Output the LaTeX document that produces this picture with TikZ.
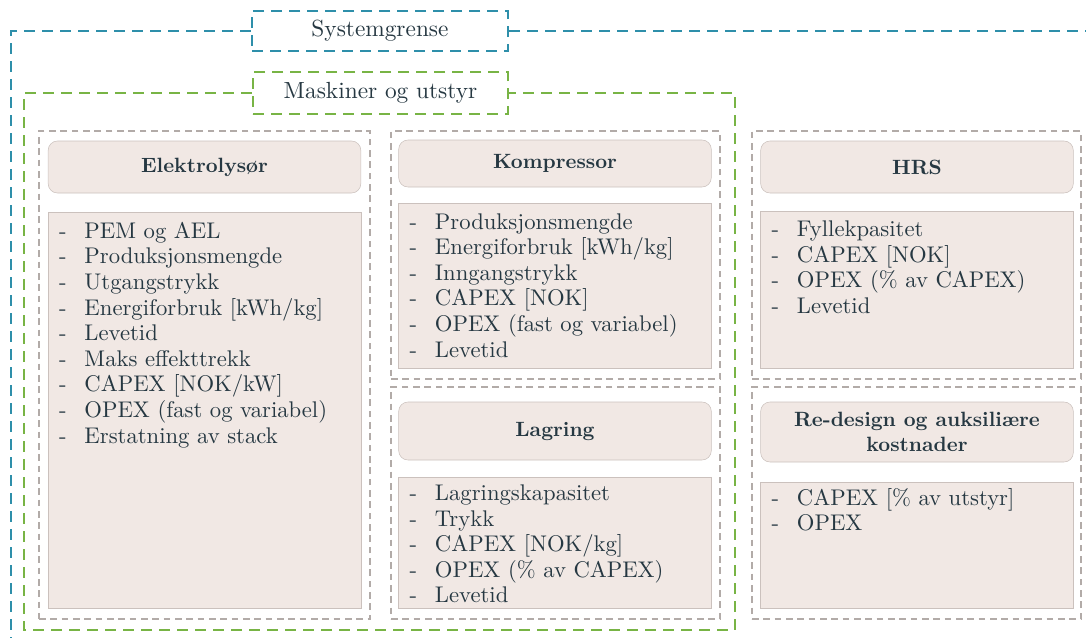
\documentclass[tikz,border=0pt]{standalone}
\usepackage{fontspec}
\setmainfont{lmroman10}[Extension=.otf,UprightFont=*-regular,BoldFont=*-bold]
\usepackage{tikz}
\definecolor{sysblue}{HTML}{2E8FAA}
\definecolor{maskgreen}{HTML}{78B445}
\definecolor{grpgray}{HTML}{B2ABA8}
\definecolor{boxfill}{HTML}{F1E8E4}
\definecolor{boxline}{HTML}{CBC1BD}
\definecolor{txt}{HTML}{263842}
\newcommand{\dashitem}[1]{\makebox[19pt][l]{-}#1}

\begin{document}
\begin{tikzpicture}[x=0.75pt,y=-0.75pt,
	sysline/.style={draw=sysblue,line width=1.6pt,dash pattern=on 8pt off 5.5pt},
	maskline/.style={draw=maskgreen,line width=1.6pt,dash pattern=on 8pt off 5.5pt},
	label/.style={fill=white,text=txt,font=\fontsize{17.5}{21}\selectfont},
	group/.style={draw=grpgray,line width=0.9pt,dash pattern=on 5pt off 3.5pt,minimum width=246.75pt},
	title/.style={draw=boxline,fill=boxfill,rounded corners=7pt,minimum width=234.5pt,text=txt,
		align=center,font=\bfseries\fontsize{15.5}{18.8}\selectfont},
	body/.style={draw=boxline,fill=boxfill,minimum width=234.5pt},
	list/.style={anchor=north west,inner sep=0pt,align=left,text=txt,font=\fontsize{17}{19.2}\selectfont}]
		\useasboundingbox (0,0) rectangle (1086,637);
		%
		\node[label,sysline,minimum width=192pt,minimum height=30pt] (sys) at (380,31) {Systemgrense};
		\node[label,maskline,minimum width=191.25pt,minimum height=31.5pt] (mask) at (380.5,93) {Maskiner og utstyr};
		\coordinate (sysbl) at (11,660);
		\coordinate (sysr) at (1100,31);
		\coordinate (maskbl) at (24,630);
		\coordinate (maskbr) at (735,630);
		\draw[sysline] (sys.west) -| (sysbl);
		\draw[sysline] (sys.east) -- (sysr);
		\draw[maskline] (mask.west) -| (maskbl) -- (maskbr) |- (mask.east);
		%
		\node[group,minimum width=248.25pt,minimum height=366pt] (g1) at (204.5,375) {};
		\node[group,minimum height=186pt] (g2) at (555.5,255) {};
		\node[group,minimum height=174pt] (g3) at (555.5,503) {};
		\node[group,minimum height=186pt] (g4) at (916.5,255) {};
		\node[group,minimum height=174pt] (g5) at (916.5,503) {};
		%
		\node[title,minimum height=39pt] (t1) at (204.5,167) {Elektrolysør};
		\node[title,minimum height=35.25pt] (t2) at (555,163.5) {Kompressor};
		\node[title,minimum height=43.5pt] (t3) at (555,431) {Lagring};
		\node[title,minimum height=39pt] (t4) at (917,167) {HRS};
		\node[title,minimum height=45pt] (t5) at (917,432) {Re-design og auksiliære\\kostnader};
		%
		\node[body,minimum height=297pt] (b1) at (204.5,410) {};
		\node[body,minimum height=123.75pt] (b2) at (555,285.5) {};
		\node[body,minimum height=98.25pt] (b3) at (555,542.5) {};
		\node[body,minimum height=117.75pt] (b4) at (917,289.5) {};
		\node[body,minimum height=94.5pt] (b5) at (917,545) {};
		%
		\node[list] (l1) at ([xshift=8.25pt,yshift=-7.5pt]b1.north west) {\dashitem{PEM og AEL}\\
			\dashitem{Produksjonsmengde}\\ \dashitem{Utgangstrykk}\\ \dashitem{Energiforbruk [kWh/kg]}\\
			\dashitem{Levetid}\\ \dashitem{Maks effekttrekk}\\ \dashitem{CAPEX [NOK/kW]}\\
			\dashitem{OPEX (fast og variabel)}\\ \dashitem{Erstatning av stack}};
		\node[list] (l2) at ([xshift=8.25pt,yshift=-7.75pt]b2.north west) {\dashitem{Produksjonsmengde}\\
			\dashitem{Energiforbruk [kWh/kg]}\\ \dashitem{Inngangstrykk}\\ \dashitem{CAPEX [NOK]}\\
			\dashitem{OPEX (fast og variabel)}\\ \dashitem{Levetid}};
		\node[list] (l3) at ([xshift=8.25pt,yshift=-5.75pt]b3.north west) {\dashitem{Lagringskapasitet}\\
			\dashitem{Trykk}\\ \dashitem{CAPEX [NOK/kg]}\\ \dashitem{OPEX (\% av CAPEX)}\\ \dashitem{Levetid}};
		\node[list] (l4) at ([xshift=8.25pt,yshift=-7.25pt]b4.north west) {\dashitem{Fyllekpasitet}\\
			\dashitem{CAPEX [NOK]}\\ \dashitem{OPEX (\% av CAPEX)}\\ \dashitem{Levetid}};
		\node[list] (l5) at ([xshift=8.25pt,yshift=-4.75pt]b5.north west) {\dashitem{CAPEX [\% av utstyr]}\\
			\dashitem{OPEX}};
\end{tikzpicture}
\end{document}
